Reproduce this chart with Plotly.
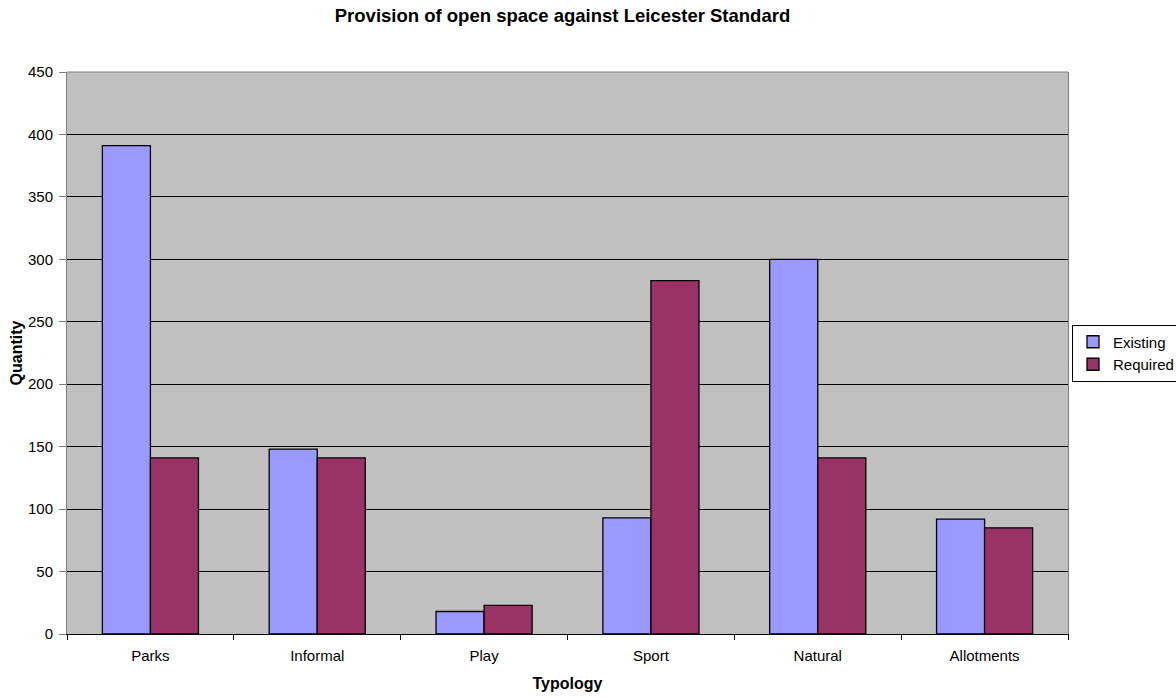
import plotly.graph_objects as go

categories = ["Parks", "Informal", "Play", "Sport", "Natural", "Allotments"]
existing = [391, 148, 18, 93, 300, 92]
required = [141, 141, 23, 283, 141, 85]
y_ticks = [0, 50, 100, 150, 200, 250, 300, 350, 400, 450]

FONT = "Arial, Liberation Sans, sans-serif"

fig = go.Figure()
fig.add_trace(go.Bar(name="Existing", x=categories, y=existing,
                     marker=dict(color="#9999FF", line=dict(color="#000000", width=1.3))))
fig.add_trace(go.Bar(name="Required", x=categories, y=required,
                     marker=dict(color="#993366", line=dict(color="#000000", width=1.3))))

fig.update_layout(
    width=1176, height=698,
    margin=dict(l=67, r=108, t=72, b=64, autoexpand=False),
    paper_bgcolor="white",
    plot_bgcolor="#C0C0C0",
    barmode="group",
    bargap=0.424,
    bargroupgap=0,
    font=dict(family=FONT, size=15, color="#000000"),
    title=dict(text="<b>Provision of open space against Leicester Standard</b>",
               x=0.495, xref="paper", xanchor="center", y=1 - 16 / 698, yanchor="middle",
               font=dict(family=FONT, size=18.5, color="#000000")),
    legend=dict(x=1.004, xanchor="left", y=0.5, yanchor="middle",
                bgcolor="white", bordercolor="#000000", borderwidth=1,
                font=dict(family=FONT, size=15, color="#000000"),
                itemwidth=30, tracegroupgap=0),
    xaxis=dict(
        title=dict(text="<b>Typology</b>", font=dict(family=FONT, size=16), standoff=14),
        showline=True, linecolor="#000000", linewidth=1,
        ticks="outside", tickson="boundaries", ticklen=5, tickcolor="#000000",
        ticklabelstandoff=8,
        showgrid=False, tickfont=dict(family=FONT, size=15),
    ),
    yaxis=dict(
        title=dict(text="<b>Quantity</b>", font=dict(family=FONT, size=16), standoff=1),
        range=[0, 450], tickvals=y_ticks, ticktext=[str(v) for v in y_ticks],
        showline=True, linecolor="#808080", linewidth=1, mirror=True,
        ticks="outside", ticklen=7, tickcolor="#808080",
        ticklabelstandoff=3,
        showgrid=True, gridcolor="#000000", gridwidth=1,
        zeroline=False, tickfont=dict(family=FONT, size=15),
    ),
    shapes=[dict(type="line", xref="paper", yref="paper", x0=0, x1=1, y0=1, y1=1,
                 line=dict(color="#808080", width=1))],
)

fig.write_html("out.html")
